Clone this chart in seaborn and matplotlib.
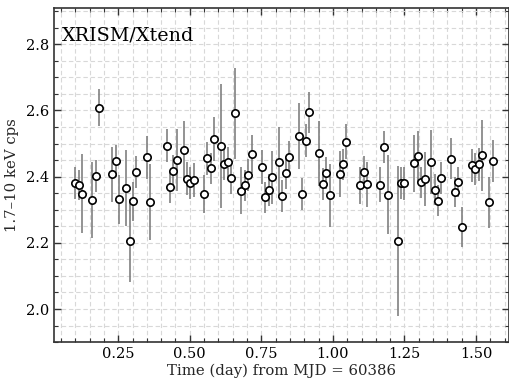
import numpy as np
import pandas as pd
import matplotlib
matplotlib.use("Agg")
import matplotlib.pyplot as plt
import seaborn as sns
from matplotlib.ticker import MultipleLocator

time_day = [0.100, 0.113, 0.124, 0.159, 0.171, 0.184, 0.230, 0.242, 0.253, 0.278,
            0.290, 0.301, 0.313, 0.349, 0.361, 0.420, 0.432, 0.443, 0.455, 0.480,
            0.490, 0.502, 0.515, 0.550, 0.561, 0.574, 0.586, 0.609, 0.621, 0.634,
            0.645, 0.657, 0.680, 0.692, 0.705, 0.716, 0.751, 0.763, 0.776, 0.787,
            0.811, 0.822, 0.835, 0.847, 0.882, 0.893, 0.906, 0.918, 0.953, 0.964,
            0.977, 0.989, 1.024, 1.036, 1.047, 1.095, 1.107, 1.118, 1.166, 1.178,
            1.191, 1.226, 1.237, 1.249, 1.284, 1.297, 1.308, 1.320, 1.343, 1.355,
            1.366, 1.379, 1.414, 1.426, 1.438, 1.450, 1.485, 1.497, 1.510, 1.522,
            1.545, 1.558]
rate_cps = [2.381, 2.374, 2.349, 2.329, 2.401, 2.609, 2.407, 2.447, 2.331, 2.365,
            2.207, 2.325, 2.413, 2.458, 2.324, 2.494, 2.369, 2.416, 2.451, 2.481,
            2.394, 2.382, 2.390, 2.348, 2.455, 2.425, 2.513, 2.492, 2.437, 2.443,
            2.396, 2.591, 2.358, 2.374, 2.406, 2.468, 2.429, 2.338, 2.360, 2.398,
            2.443, 2.341, 2.410, 2.459, 2.524, 2.347, 2.509, 2.594, 2.471, 2.377,
            2.411, 2.344, 2.408, 2.437, 2.505, 2.374, 2.414, 2.377, 2.376, 2.489,
            2.346, 2.205, 2.380, 2.380, 2.440, 2.461, 2.383, 2.394, 2.444, 2.361,
            2.327, 2.397, 2.454, 2.353, 2.385, 2.248, 2.434, 2.424, 2.437, 2.464,
            2.322, 2.447]
rate_err = [0.048, 0.046, 0.120, 0.115, 0.048, 0.057, 0.084, 0.048, 0.075, 0.115,
            0.125, 0.060, 0.048, 0.065, 0.115, 0.050, 0.048, 0.048, 0.093, 0.087,
            0.050, 0.048, 0.050, 0.057, 0.050, 0.047, 0.067, 0.187, 0.048, 0.048,
            0.048, 0.137, 0.070, 0.047, 0.048, 0.058, 0.052, 0.047, 0.048, 0.080,
            0.108, 0.048, 0.048, 0.049, 0.100, 0.048, 0.049, 0.063, 0.098, 0.048,
            0.048, 0.095, 0.070, 0.048, 0.053, 0.056, 0.048, 0.068, 0.052, 0.049,
            0.120, 0.227, 0.049, 0.050, 0.085, 0.077, 0.047, 0.082, 0.097, 0.046,
            0.047, 0.048, 0.062, 0.046, 0.045, 0.060, 0.050, 0.049, 0.049, 0.106,
            0.078, 0.064]

df = pd.DataFrame({"t": time_day, "rate": rate_cps, "err": rate_err})

sns.set_style("ticks")
plt.rcParams["font.family"] = ["DejaVu Serif"]
plt.rcParams["mathtext.fontset"] = "dejavuserif"

fig = plt.figure(figsize=(5.10, 3.78), dpi=100)
ax = fig.add_axes([0.106, 0.095, 0.892, 0.884])

ax.errorbar(df["t"], df["rate"], yerr=df["err"], fmt="none",
            ecolor="#808080", elinewidth=1.2, capsize=0, zorder=2)
sns.scatterplot(data=df, x="t", y="rate", ax=ax, marker="o", s=28,
                facecolor="white", edgecolor="black", linewidth=1.2, zorder=3)

ax.set_xlim(0.026, 1.615)
ax.set_ylim(1.90, 2.91)
ax.xaxis.set_major_locator(MultipleLocator(0.25))
ax.xaxis.set_minor_locator(MultipleLocator(0.05))
ax.yaxis.set_major_locator(MultipleLocator(0.2))
ax.yaxis.set_minor_locator(MultipleLocator(0.05))
ax.xaxis.set_major_formatter(matplotlib.ticker.FormatStrFormatter("%.2f"))
ax.yaxis.set_major_formatter(matplotlib.ticker.FormatStrFormatter("%.1f"))

ax.grid(which="both", color="#d8d8d8", linestyle=(0, (4, 2.5)), linewidth=0.8, zorder=0)
ax.set_axisbelow(True)
ax.tick_params(which="both", direction="in", top=True, right=True, colors="#333333",
               labelcolor="black", labelsize=10.5)
ax.tick_params(which="major", length=5, width=1.0)
ax.tick_params(which="minor", length=3, width=0.8)
for sp in ax.spines.values():
    sp.set_color("#333333")
    sp.set_linewidth(1.2)

ax.set_xlabel("Time (day) from MJD = 60386", fontsize=10.7, labelpad=2)
ax.set_ylabel("1.7\u201310 keV cps", fontsize=10.7, labelpad=5)
ax.text(0.018, 0.945, "XRISM/Xtend", transform=ax.transAxes, fontsize=13.8,
        ha="left", va="top", color="black")

fig.savefig("out.png", dpi=100)
